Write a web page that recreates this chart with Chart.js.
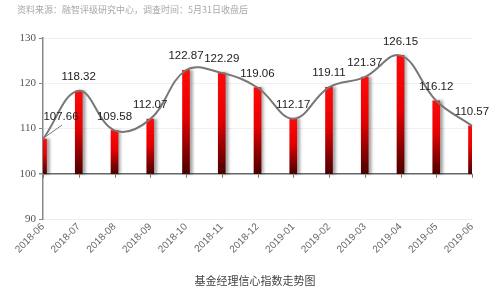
<!DOCTYPE html>
<html><head><meta charset="utf-8">
<script src="https://cdn.jsdelivr.net/npm/chart.js@4/dist/chart.umd.min.js"></script>
<style>html,body{margin:0;padding:0;background:#fff;}#wrap{width:500px;height:297px;}</style>
</head><body><div id="wrap"><canvas id="c" width="500" height="297"></canvas></div>
<script>
const categories = ['2018-06','2018-07','2018-08','2018-09','2018-10','2018-11','2018-12','2019-01','2019-02','2019-03','2019-04','2019-05','2019-06'];
const values = [107.66,118.32,109.58,112.07,122.87,122.29,119.06,112.17,119.11,121.37,126.15,116.12,110.57];
const baseValue = 100;
const yMin = 90, yMax = 130, yStep = 10;
const sourceText = '资料来源：融智评级研究中心，调查时间：5月31日收盘后';
const titleText = '基金经理信心指数走势图';

function barGradient(ctx) {
  const chart = ctx.chart;
  const y = chart.scales && chart.scales.y;
  if (!y || ctx.dataIndex === undefined) return '#e00000';
  const v = values[ctx.dataIndex];
  const top = y.getPixelForValue(v), bot = y.getPixelForValue(baseValue);
  if (!isFinite(top) || !isFinite(bot) || top === bot) return '#e00000';
  const g = chart.ctx.createLinearGradient(0, top, 0, bot);
  g.addColorStop(0, '#ff0a0a');
  g.addColorStop(0.45, '#e60000');
  g.addColorStop(1, '#4a0000');
  return g;
}

const decor = {
  id: 'decor',
  beforeDatasetDraw(chart, args) {
    if (args.index === 0) {
      const c = chart.ctx; c.save();
      c.shadowColor = 'rgba(0,0,0,0.35)'; c.shadowOffsetX = 3; c.shadowOffsetY = 0; c.shadowBlur = 3;
    }
  },
  afterDatasetDraw(chart, args) {
    if (args.index === 0) chart.ctx.restore();
  },
  afterDatasetsDraw(chart) {
    const c = chart.ctx, x = chart.scales.x, y = chart.scales.y;
    const y100 = y.getPixelForValue(baseValue);
    c.save();
    c.strokeStyle = '#777'; c.lineWidth = 1;
    categories.forEach((cat, i) => {
      const px = Math.round(x.getPixelForValue(i)) + 0.5;
      c.beginPath(); c.moveTo(px, y100); c.lineTo(px, y100 + 4); c.stroke();
    });
    c.font = '11.5px "Liberation Sans", Arial, sans-serif';
    c.fillStyle = '#222'; c.textAlign = 'center'; c.textBaseline = 'middle';
    values.forEach((v, i) => {
      const px = x.getPixelForValue(i), py = y.getPixelForValue(v);
      let lx = px, ly = py - 14;
      if (i === 0) {
        lx = px + 18; ly = py - 22;
        c.strokeStyle = '#777'; c.lineWidth = 1;
        c.beginPath(); c.moveTo(px + 2, py - 2); c.lineTo(px + 19, py - 14); c.stroke();
      }
      c.fillText(v.toFixed(2), lx, ly);
    });
    c.restore();
  },
  afterDraw(chart) {
    const c = chart.ctx;
    c.save();
    c.font = '9px "Noto Sans CJK SC", sans-serif';
    c.fillStyle = '#a8a8a8'; c.textAlign = 'left'; c.textBaseline = 'middle';
    c.fillText(sourceText, 17, 10);
    c.font = '11px "Noto Sans CJK SC", sans-serif';
    c.fillStyle = '#444'; c.textAlign = 'center';
    c.fillText(titleText, 255, 281);
    c.restore();
  }
};

new Chart(document.getElementById('c'), {
  data: {
    labels: categories,
    datasets: [
      {
        type: 'bar',
        data: values.map(v => [baseValue, v]),
        backgroundColor: barGradient,
        barThickness: 7,
        borderWidth: 0,
        order: 2
      },
      {
        type: 'line',
        data: values,
        borderColor: '#777',
        borderWidth: 2,
        tension: 0.4,
        pointRadius: 0,
        fill: false,
        order: 1
      }
    ]
  },
  options: {
    responsive: false,
    animation: false,
    layout: { padding: { top: 38, right: 28, left: 0, bottom: 0 } },
    plugins: { legend: { display: false }, tooltip: { enabled: false } },
    scales: {
      x: {
        offset: false,
        grid: { display: false, drawTicks: false },
        border: { color: '#eee', width: 1 },
        ticks: { color: '#666', font: { size: 10, family: '"Liberation Sans", Arial, sans-serif' }, minRotation: 45, maxRotation: 45, padding: 2, autoSkip: false },
        afterFit(s) { s.height = 78; }
      },
      y: {
        min: yMin, max: yMax,
        ticks: { stepSize: yStep, color: '#555', font: { size: 11, family: '"Liberation Serif", "Times New Roman", serif' }, padding: 3 },
        grid: {
          color: ctx => (ctx.tick && ctx.tick.value === baseValue) ? '#666' : '#f0f0f0',
          lineWidth: ctx => (ctx.tick && ctx.tick.value === baseValue) ? 1.5 : 1,
          tickColor: '#888', tickLength: 4
        },
        border: { color: '#888', width: 1.5 },
        afterFit(s) { s.width = 43; }
      }
    }
  },
  plugins: [decor]
});
</script></body></html>
